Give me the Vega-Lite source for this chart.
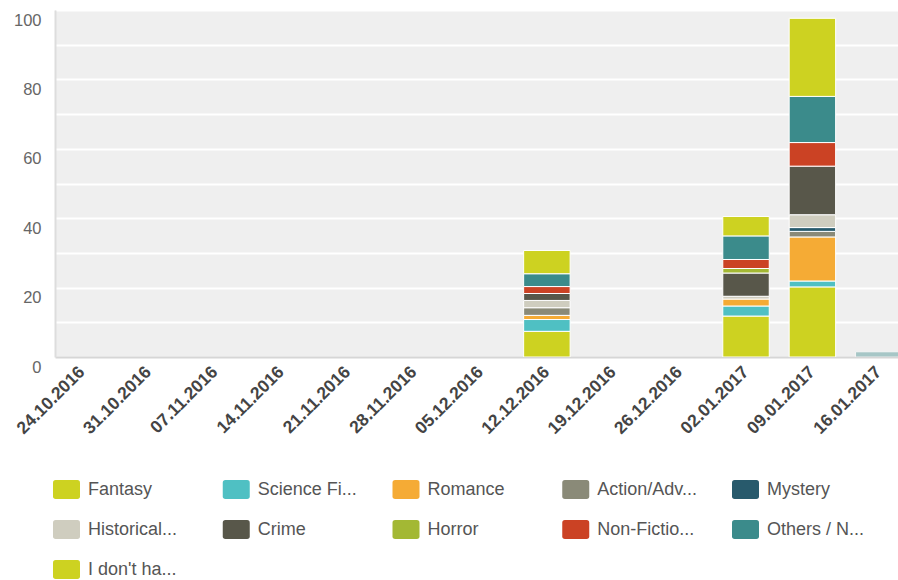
{
  "$schema": "https://vega.github.io/schema/vega-lite/v6.json",
  "autosize": "none",
  "padding": {"left": 55, "top": 10, "right": 0, "bottom": 223},
  "width": 843,
  "height": 347,
  "background": "white",
  "config": {
    "view": {"fill": "#efefef", "stroke": null},
    "font": "Liberation Sans"
  },
  "datasets": {
    "votes": [
      {"week": "12.12.2016", "genre": "Fantasy", "count": 7.4},
      {"week": "12.12.2016", "genre": "Science Fi...", "count": 3.4},
      {"week": "12.12.2016", "genre": "Romance", "count": 1.2},
      {"week": "12.12.2016", "genre": "Action/Adv...", "count": 2.2},
      {"week": "12.12.2016", "genre": "Historical...", "count": 2.1},
      {"week": "12.12.2016", "genre": "Crime", "count": 2.0},
      {"week": "12.12.2016", "genre": "Non-Fictio...", "count": 2.0},
      {"week": "12.12.2016", "genre": "Others / N...", "count": 3.7},
      {"week": "12.12.2016", "genre": "I don't ha...", "count": 6.7},
      {"week": "02.01.2017", "genre": "Fantasy", "count": 11.8},
      {"week": "02.01.2017", "genre": "Science Fi...", "count": 2.9},
      {"week": "02.01.2017", "genre": "Romance", "count": 2.0},
      {"week": "02.01.2017", "genre": "Historical...", "count": 0.8},
      {"week": "02.01.2017", "genre": "Crime", "count": 6.7},
      {"week": "02.01.2017", "genre": "Horror", "count": 1.3},
      {"week": "02.01.2017", "genre": "Non-Fictio...", "count": 2.6},
      {"week": "02.01.2017", "genre": "Others / N...", "count": 6.8},
      {"week": "02.01.2017", "genre": "I don't ha...", "count": 5.6},
      {"week": "09.01.2017", "genre": "Fantasy", "count": 20.2},
      {"week": "09.01.2017", "genre": "Science Fi...", "count": 1.7},
      {"week": "09.01.2017", "genre": "Romance", "count": 12.7},
      {"week": "09.01.2017", "genre": "Action/Adv...", "count": 1.6},
      {"week": "09.01.2017", "genre": "Mystery", "count": 1.1},
      {"week": "09.01.2017", "genre": "Historical...", "count": 3.7},
      {"week": "09.01.2017", "genre": "Crime", "count": 14.0},
      {"week": "09.01.2017", "genre": "Non-Fictio...", "count": 6.8},
      {"week": "09.01.2017", "genre": "Others / N...", "count": 13.3},
      {"week": "09.01.2017", "genre": "I don't ha...", "count": 22.5},
      {"week": "16.01.2017", "genre": "Others / N...", "count": 1.5}
    ],
    "genres": [
      {"genre": "Fantasy", "rank": 1},
      {"genre": "Science Fi...", "rank": 2},
      {"genre": "Romance", "rank": 3},
      {"genre": "Action/Adv...", "rank": 4},
      {"genre": "Mystery", "rank": 5},
      {"genre": "Historical...", "rank": 6},
      {"genre": "Crime", "rank": 7},
      {"genre": "Horror", "rank": 8},
      {"genre": "Non-Fictio...", "rank": 9},
      {"genre": "Others / N...", "rank": 10},
      {"genre": "I don't ha...", "rank": 11}
    ]
  },
  "data": {"name": "votes"},
  "transform": [
    {"lookup": "genre", "from": {"data": {"name": "genres"}, "key": "genre", "fields": ["rank"]}}
  ],
  "mark": {"type": "bar", "stroke": "white", "strokeWidth": 1, "clip": true},
  "encoding": {
    "x": {
      "field": "week",
      "type": "nominal",
      "scale": {
        "domain": ["24.10.2016", "31.10.2016", "07.11.2016", "14.11.2016", "21.11.2016", "28.11.2016", "05.12.2016", "12.12.2016", "19.12.2016", "26.12.2016", "02.01.2017", "09.01.2017", "16.01.2017"],
        "range": [0, 851],
        "paddingInner": 0.3,
        "paddingOuter": 0.06
      },
      "axis": {
        "title": null,
        "labelAngle": -45,
        "labelAlign": "right",
        "labelBaseline": "middle",
        "labelFontSize": 17.5,
        "labelFontWeight": "bold",
        "labelColor": "#444444",
        "labelPadding": 12,
        "labelOverlap": false,
        "ticks": false,
        "domain": true,
        "domainColor": "#d6d6d6",
        "domainWidth": 2
      }
    },
    "y": {
      "field": "count",
      "type": "quantitative",
      "stack": "zero",
      "scale": {"domain": [0, 100], "nice": false},
      "axis": {
        "title": null,
        "values": [0, 10, 20, 30, 40, 50, 60, 70, 80, 90, 100],
        "labelExpr": "datum.value % 20 === 0 ? datum.label : ''",
        "grid": true,
        "gridColor": "#ffffff",
        "gridWidth": 2,
        "ticks": false,
        "domain": true,
        "domainColor": "#dddddd",
        "domainWidth": 2,
        "labelFontSize": 16.5,
        "labelColor": "#666666",
        "labelPadding": 14,
        "labelBaseline": "top",
        "labelOffset": 2
      }
    },
    "color": {
      "field": "genre",
      "type": "nominal",
      "scale": {
        "domain": ["Fantasy", "Science Fi...", "Romance", "Action/Adv...", "Mystery", "Historical...", "Crime", "Horror", "Non-Fictio...", "Others / N...", "I don't ha..."],
        "range": ["#cdd221", "#4fc0c3", "#f5ab35", "#8a8a78", "#285a6c", "#cfcdbf", "#58574a", "#a3b834", "#cb4224", "#3b8b8b", "#cdd221"]
      },
      "legend": {
        "title": null,
        "orient": "none",
        "legendX": -2,
        "legendY": 466,
        "direction": "horizontal",
        "columns": 5,
        "gridAlign": "all",
        "columnPadding": 34.75,
        "rowPadding": 17,
        "padding": 0,
        "symbolType": "M-0.8,-0.7H0.8Q1,-0.7 1,-0.5V0.5Q1,0.7 0.8,0.7H-0.8Q-1,0.7 -1,0.5V-0.5Q-1,-0.7 -0.8,-0.7Z",
        "symbolSize": 729,
        "symbolStrokeWidth": 0,
        "symbolOpacity": 1,
        "labelFontSize": 18,
        "labelColor": "#555555",
        "labelOffset": 8,
        "labelLimit": 200
      }
    },
    "order": {"field": "rank", "type": "quantitative"},
    "opacity": {
      "condition": {"test": "datum.week === '16.01.2017'", "value": 0.4},
      "value": 1
    }
  }
}
